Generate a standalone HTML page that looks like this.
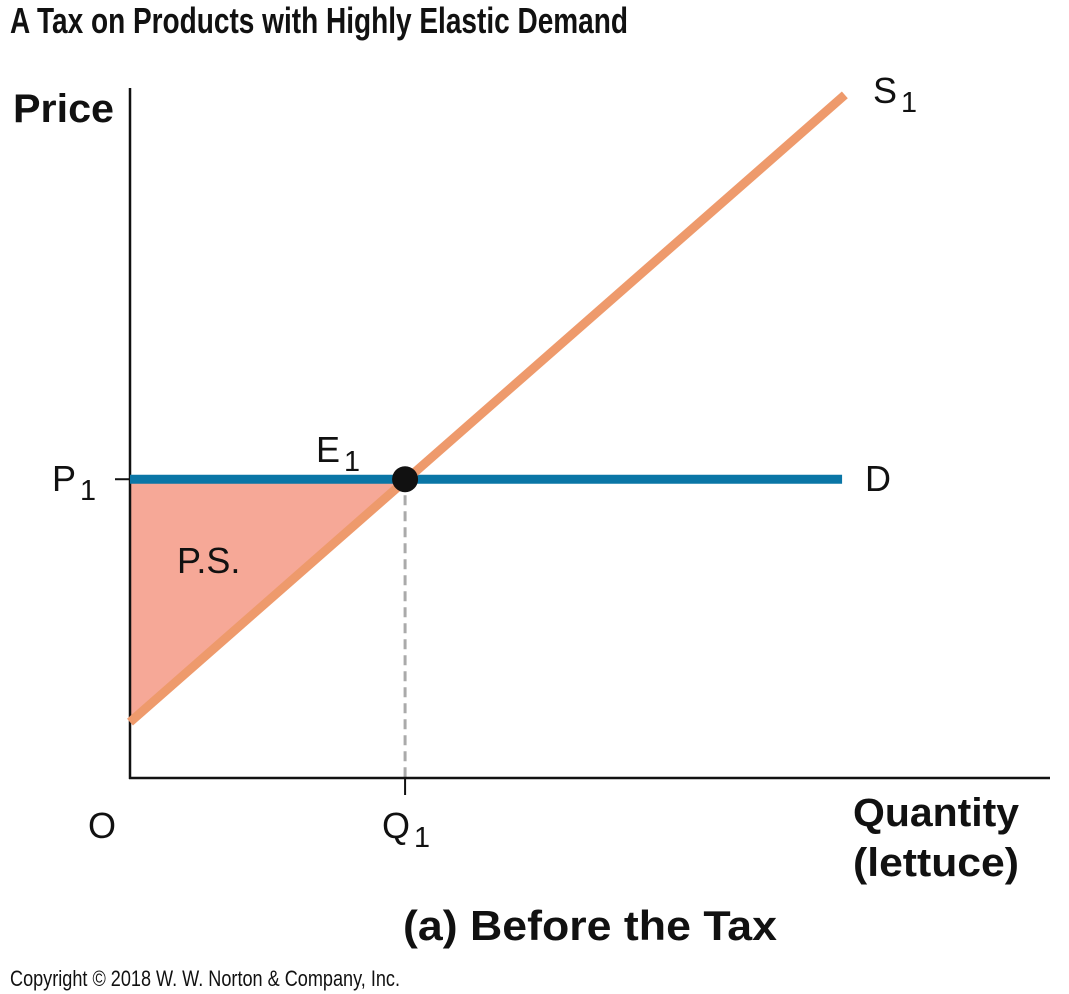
<!DOCTYPE html>
<html><head><meta charset="utf-8"><style>
html,body{margin:0;padding:0;background:#fff;}
svg{display:block;font-family:"Liberation Sans Narrow","Liberation Sans",sans-serif;}
</style></head><body>
<svg id="chart" width="1069" height="994" viewBox="0 0 1069 994" xmlns="http://www.w3.org/2000/svg">
<text x="10" y="33" font-size="36" font-weight="bold" textLength="618" lengthAdjust="spacingAndGlyphs" fill="#111">A Tax on Products with Highly Elastic Demand</text>
<text x="13" y="122" font-size="40" font-weight="bold" textLength="101" lengthAdjust="spacingAndGlyphs" fill="#111">Price</text>
<text x="853" y="826" font-size="40" font-weight="bold" textLength="166" lengthAdjust="spacingAndGlyphs" fill="#111">Quantity</text>
<text x="853" y="876" font-size="40" font-weight="bold" textLength="166" lengthAdjust="spacingAndGlyphs" fill="#111">(lettuce)</text>
<text x="403" y="940" font-size="42" font-weight="bold" textLength="374" lengthAdjust="spacingAndGlyphs" fill="#111">(a) Before the Tax</text>
<text x="10" y="986" font-size="22" textLength="390" lengthAdjust="spacingAndGlyphs" fill="#111">Copyright © 2018 W. W. Norton &amp; Company, Inc.</text>
<g id="plot"></g>
</svg>
<script>
const quantityDomain = [0, 100];
const priceDomain = [0, 100];
const supplyQ = [0, 77.7];
const supplyP = [8.1, 99];
const demandQ = [0, 77.4];
const demandP = [43.3, 43.3];
const eqQ = 29.9;
const eqP = 43.3;
const labels = {supply:"S", demand:"D", eq:"E", price:"P", qty:"Q", origin:"O", ps:"P.S."};

const X0=130, X1=1050, Y0=778, Y1=88;
const xs = q => X0 + (q-quantityDomain[0])/(quantityDomain[1]-quantityDomain[0])*(X1-X0);
const ys = p => Y0 - (p-priceDomain[0])/(priceDomain[1]-priceDomain[0])*(Y0-Y1);
const NS="http://www.w3.org/2000/svg";
const g=document.getElementById('plot');
function mk(tag,attrs){const e=document.createElementNS(NS,tag);for(const k in attrs)e.setAttribute(k,attrs[k]);g.appendChild(e);return e;}
function txt(x,y,s,size,sub,name){const t=mk('text',{x:x,y:y,'font-size':size,fill:'#111'});t.textContent=s;if(sub){const ts=document.createElementNS(NS,'tspan');ts.setAttribute('font-size',size*0.8);ts.setAttribute('dy',size*0.25);ts.setAttribute('dx',4);ts.textContent=sub;t.appendChild(ts);}return t;}

// supply intercept along y axis at q=0
const slope=(supplyP[1]-supplyP[0])/(supplyQ[1]-supplyQ[0]);
const ps=mk('polygon',{points:`${xs(0)},${ys(eqP)} ${xs(eqQ)},${ys(eqP)} ${xs(0)},${ys(supplyP[0])}`,fill:'#f6a897'});



const dl=mk('line',{x1:xs(eqQ),y1:ys(eqP),x2:xs(eqQ),y2:Y0,stroke:'#aaa','stroke-width':3,'stroke-dasharray':'10,6'});



const ya=mk('line',{x1:X0,y1:Y1,x2:X0,y2:Y0+1,stroke:'#111','stroke-width':2.5});


const xa=mk('line',{x1:X0-1,y1:Y0,x2:X1,y2:Y0,stroke:'#111','stroke-width':2.5});


const pt=mk('line',{x1:X0-15,y1:ys(eqP),x2:X0,y2:ys(eqP),stroke:'#111','stroke-width':2});


const qt=mk('line',{x1:xs(eqQ),y1:Y0,x2:xs(eqQ),y2:Y0+17,stroke:'#111','stroke-width':2});



const dem=mk('line',{x1:xs(demandQ[0]),y1:ys(demandP[0]),x2:xs(demandQ[1]),y2:ys(demandP[1]),stroke:'#0a76a6','stroke-width':9});


const sup=mk('line',{x1:xs(supplyQ[0]),y1:ys(supplyP[0]),x2:xs(supplyQ[1]),y2:ys(supplyP[1]),stroke:'#ee9a6c','stroke-width':9});


const eq=mk('circle',{cx:xs(eqQ),cy:ys(eqP),r:13,fill:'#111'});



txt(873,103,labels.supply,36,'1','supply-label');
txt(865,491,labels.demand,36,null,'demand-label');
txt(316,462,labels.eq,36,'1','equilibrium-label');
txt(52,491,labels.price,36,'1','p1-label');
txt(382,838,labels.qty,36,'1','q1-label');
txt(88,838,labels.origin,36,null,'origin-label');
txt(177,573,labels.ps,36,null,'producer-surplus-label');
</script>
</body></html>
